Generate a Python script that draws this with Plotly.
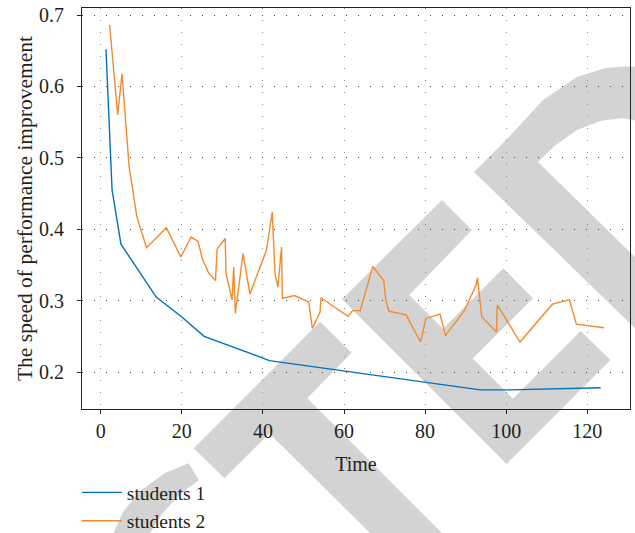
import plotly.graph_objects as go

# ---- data ----
s1_time = [1.3, 2.8, 5.0, 13.7, 20.0, 25.5, 41.6, 93.6, 100.7, 123.3]
s1_speed = [0.652, 0.455, 0.379, 0.305, 0.277, 0.250, 0.216, 0.175, 0.175, 0.178]

s2_time = [2.2, 4.2, 5.25, 7.0, 8.9, 11.3, 16.2, 19.75, 22.3, 24.0, 25.1, 26.6, 28.3,
           28.7, 30.7, 30.9, 32.4, 32.8, 33.2, 35.1, 36.8, 40.9, 42.3, 43.0, 43.7,
           44.6, 44.8, 47.8, 51.3, 52.2, 54.1, 54.3, 61.0, 62.1, 64.0, 67.1, 69.8,
           70.3, 71.1, 75.3, 78.9, 80.2, 83.7, 85.0, 89.8, 92.6, 92.9, 94.0, 97.6,
           97.8, 103.4, 111.4, 115.6, 117.3, 124.1]
s2_speed = [0.686, 0.560, 0.618, 0.488, 0.418, 0.374, 0.402, 0.361, 0.389, 0.383, 0.358,
            0.339, 0.328, 0.372, 0.387, 0.338, 0.301, 0.347, 0.282, 0.366, 0.309, 0.371,
            0.424, 0.337, 0.319, 0.375, 0.303, 0.307, 0.298, 0.261, 0.284, 0.304, 0.278,
            0.286, 0.286, 0.348, 0.328, 0.301, 0.285, 0.280, 0.242, 0.275, 0.281, 0.251,
            0.287, 0.322, 0.332, 0.277, 0.256, 0.294, 0.242, 0.295, 0.301, 0.267, 0.262]

x_ticks = [0, 20, 40, 60, 80, 100, 120]
y_ticks = [0.2, 0.3, 0.4, 0.5, 0.6, 0.7]

FONT = "Liberation Serif, Times New Roman, serif"
W, H = 635, 533
ML, MR, MT, MB = 82, 5, 8, 124
PW, PH = W - ML - MR, H - MT - MB

fig = go.Figure()
fig.add_trace(go.Scatter(x=s1_time, y=s1_speed, mode="lines", name="students 1",
                         line=dict(color="#0072BD", width=1.4)))
fig.add_trace(go.Scatter(x=s2_time, y=s2_speed, mode="lines", name="students 2",
                         line=dict(color="#F28A2E", width=1.4)))

# ---- background watermark (decorative), pixel polygons -> paper coords ----
def px2paper(pts):
    return [((x - ML) / PW, (MT + PH - y) / PH) for x, y in pts]

def path(pts):
    p = px2paper(pts)
    return "M" + " L".join(f"{a:.4f},{b:.4f}" for a, b in p) + " Z"

arc_shape = [(474, 172), (509, 137), (543, 100), (577, 77), (605, 68), (625, 66.5), (640, 67),
             (640, 121), (622, 118.3), (601, 120.7), (577, 130), (553.5, 146.7), (538, 162),
             (640, 262), (640, 333)]
e_shape = [(342, 299.3), (442, 200), (472, 230), (409.2, 295), (442.9, 328.7),
           (503.3, 268.3), (533, 298.3), (472.75, 358.5), (512.95, 398.75),
           (580.7, 331), (610.4, 360), (506.6, 463.9)]
f_shape = [(193.8, 448.3), (320, 321.7), (351.6, 352.7), (307.3, 398.3), (442, 533),
           (370, 533), (269.4, 433.4), (224.4, 478.3)]
c_shape = [(188.6, 463.3), (165, 473), (140, 491), (123, 512), (113.6, 533),
           (150, 533), (162, 514), (178, 496), (199, 480)]

shapes = []
for poly in [arc_shape, e_shape, f_shape, c_shape]:
    shapes.append(dict(type="path", xref="paper", yref="paper", path=path(poly),
                       fillcolor="rgb(211,211,211)", line=dict(width=0), layer="below"))

fig.update_layout(
    width=W, height=H,
    margin=dict(l=ML, r=MR, t=MT, b=MB, autoexpand=False),
    paper_bgcolor="white", plot_bgcolor="rgba(0,0,0,0)",
    font=dict(family=FONT, size=20, color="#231f20"),
    shapes=shapes,
    showlegend=True,
    legend=dict(x=-0.0095, y=-0.16, xanchor="left", yanchor="top",
                bgcolor="rgba(0,0,0,0)", font=dict(family=FONT, size=19.5, color="#231f20"),
                tracegroupgap=0, itemwidth=40),
)
fig.update_xaxes(
    range=[(ML - 100.7) / 4.055, (W - MR - 100.7) / 4.055],
    tickvals=x_ticks, ticktext=[str(v) for v in x_ticks],
    showline=True, linecolor="#222", linewidth=1, mirror=True,
    ticks="outside", ticklen=4, tickcolor="#222", ticklabelstandoff=0,
    showgrid=True, gridcolor="#888", gridwidth=1, griddash="1px,11px",
    zeroline=False, automargin=False,
    title=dict(text="Time", standoff=15, font=dict(family=FONT, size=20)),
    tickfont=dict(family=FONT, size=20),
)
fig.update_yaxes(
    range=[0.7 - (MT + PH - 15) / 714, 0.7 + (15 - MT) / 714],
    tickvals=y_ticks, ticktext=[f"{v:.1f}" for v in y_ticks],
    showline=True, linecolor="#222", linewidth=1, mirror=True,
    ticks="outside", ticklen=4, tickcolor="#222", ticklabelstandoff=9,
    showgrid=True, gridcolor="#444", gridwidth=1, griddash="1px,11px",
    zeroline=False, automargin=False,
    title=dict(text="The speed of performance improvement", standoff=0,
               font=dict(family=FONT, size=21.5)),
    tickfont=dict(family=FONT, size=20),
)

fig.write_html("out.html", config={"displayModeBar": False},
               post_script="document.body.style.margin='0';")
